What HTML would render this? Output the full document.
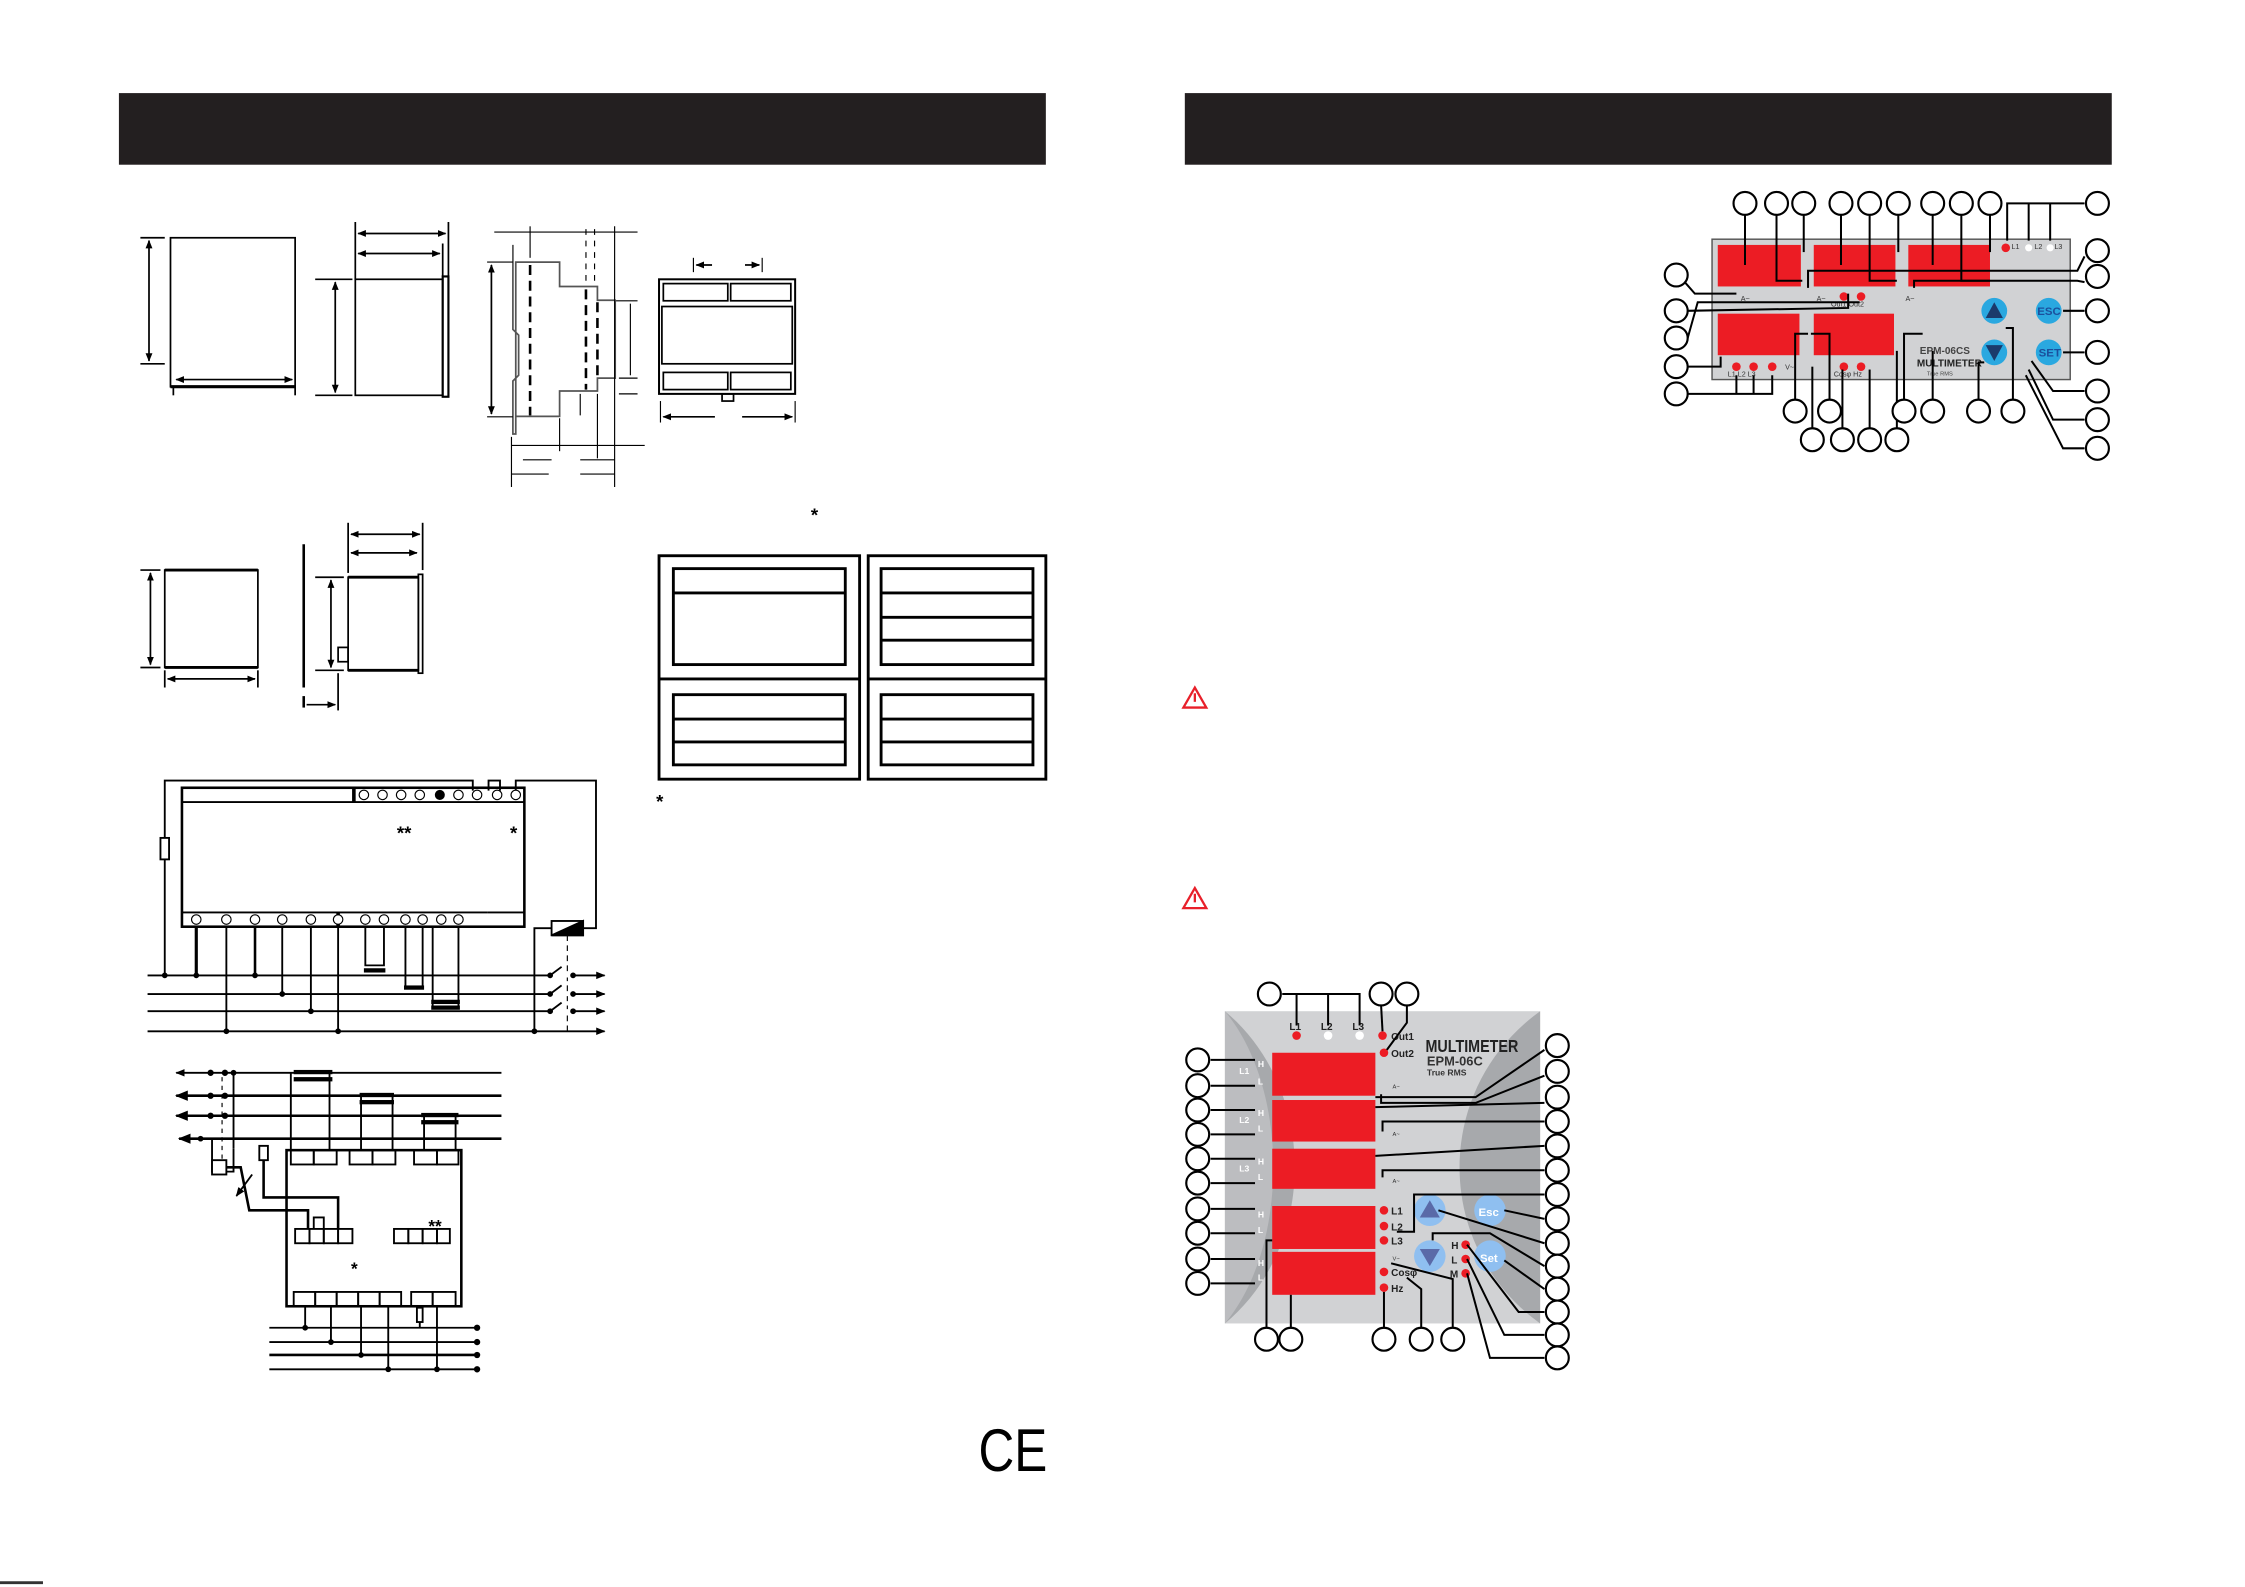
<!DOCTYPE html>
<html><head><meta charset="utf-8"><style>
html,body{margin:0;padding:0;background:#fff;}
svg{display:block;}
text{font-family:"Liberation Sans",sans-serif;}
</style></head><body>
<svg width="2245" height="1587" viewBox="0 0 1567 1108" preserveAspectRatio="none" xmlns="http://www.w3.org/2000/svg">
<defs>
<marker id="a" viewBox="0 0 10 10" refX="9" refY="5" markerWidth="5" markerHeight="5" orient="auto-start-reverse"><path d="M0,1 L10,5 L0,9 z" fill="#000"/></marker>
</defs>
<rect width="1567" height="1108" fill="#fff"/>
<rect x="83" y="65" width="647" height="50" fill="#231f20"/>
<rect x="827" y="65" width="647" height="50" fill="#231f20"/>
<line x1="0" y1="1105" x2="30" y2="1105" stroke="#333" stroke-width="2"/>

<g fill="none" stroke="#000" stroke-width="1.2">
<rect x="119" y="166" width="87" height="104"/>
<line x1="119" y1="270" x2="206" y2="270" stroke-width="2.2"/>
<line x1="98" y1="166" x2="115" y2="166"/><line x1="98" y1="254" x2="115" y2="254"/>
<line x1="104" y1="168" x2="104" y2="252" marker-start="url(#a)" marker-end="url(#a)"/>
<line x1="206" y1="270" x2="206" y2="276"/><line x1="121" y1="270" x2="121" y2="276"/>
<line x1="123" y1="265" x2="204" y2="265" marker-start="url(#a)" marker-end="url(#a)"/>
<rect x="248" y="195" width="61" height="81"/>
<rect x="309" y="193" width="4" height="84" stroke-width="1.5"/>
<line x1="248" y1="155" x2="248" y2="195"/><line x1="313" y1="155" x2="313" y2="193"/><line x1="309" y1="170" x2="309" y2="193"/>
<line x1="250" y1="163" x2="311" y2="163" marker-start="url(#a)" marker-end="url(#a)"/>
<line x1="250" y1="177" x2="307" y2="177" marker-start="url(#a)" marker-end="url(#a)"/>
<line x1="220" y1="195" x2="246" y2="195"/><line x1="220" y1="276" x2="246" y2="276"/>
<line x1="234" y1="197" x2="234" y2="274" marker-start="url(#a)" marker-end="url(#a)"/>
<polyline points="358,171 358,230 362,234 362,262 358,266 358,303 360,303 360,183 390.6,183 390.6,200 417,200 417,209.6 429.4,209.6 429.4,264 417,264 417,273 390.6,273 390.6,290.7 360,290.7" stroke="#555"/>
<line x1="370" y1="185" x2="370" y2="290" stroke-dasharray="7,4" stroke-width="1.8"/>
<line x1="409" y1="202" x2="409" y2="272" stroke-dasharray="7,4" stroke-width="1.8"/>
<line x1="417" y1="211" x2="417" y2="263" stroke-dasharray="7,4" stroke-width="1.8"/>
<line x1="409" y1="160" x2="409" y2="196" stroke-dasharray="4,4" stroke-width="0.8"/>
<line x1="415" y1="160" x2="415" y2="196" stroke-dasharray="4,4" stroke-width="0.8"/>
<line x1="345" y1="162" x2="445" y2="162" stroke-width="0.8"/>
<line x1="370" y1="158" x2="370" y2="180" stroke-width="0.8"/><line x1="429" y1="158" x2="429" y2="340" stroke-width="0.8"/>
<line x1="343" y1="185" x2="343" y2="289" marker-start="url(#a)" marker-end="url(#a)"/>
<line x1="340" y1="183" x2="358" y2="183" stroke-width="0.8"/><line x1="340" y1="291" x2="358" y2="291" stroke-width="0.8"/>
<line x1="430" y1="210" x2="445" y2="210" stroke-width="0.8"/><line x1="440" y1="212" x2="440" y2="262" stroke-width="0.8"/>
<line x1="432" y1="264" x2="445" y2="264" stroke-width="0.8"/><line x1="432" y1="275" x2="445" y2="275" stroke-width="0.8"/>
<line x1="405" y1="275" x2="405" y2="290" stroke-width="0.8"/>
<line x1="357" y1="305" x2="357" y2="340" stroke-width="0.8"/><line x1="390.6" y1="292" x2="390.6" y2="315" stroke-width="0.8"/><line x1="417" y1="275" x2="417" y2="320" stroke-width="0.8"/>
<line x1="357" y1="311" x2="450" y2="311" stroke-width="0.8"/>
<line x1="365" y1="321" x2="385" y2="321" stroke-width="0.8"/><line x1="405" y1="321" x2="429" y2="321" stroke-width="0.8"/>
<line x1="357" y1="331" x2="383" y2="331" stroke-width="0.8"/><line x1="405" y1="331" x2="429" y2="331" stroke-width="0.8"/>
<rect x="460" y="195" width="95" height="80" stroke-width="1.4"/>
<rect x="463" y="198" width="45" height="12"/><rect x="510" y="198" width="42" height="12"/>
<rect x="462" y="214" width="91" height="40"/>
<rect x="463" y="260" width="45" height="12"/><rect x="510" y="260" width="42" height="12"/>
<rect x="504" y="275" width="8" height="5"/>
<line x1="484" y1="180" x2="484" y2="190" stroke-width="0.8"/><line x1="532" y1="180" x2="532" y2="190" stroke-width="0.8"/>
<line x1="486" y1="185" x2="497" y2="185" marker-start="url(#a)"/><line x1="520" y1="185" x2="530" y2="185" marker-end="url(#a)"/>
<line x1="461" y1="280" x2="461" y2="295" stroke-width="0.8"/><line x1="555" y1="280" x2="555" y2="295" stroke-width="0.8"/>
<line x1="463" y1="291" x2="499" y2="291" marker-start="url(#a)"/><line x1="518" y1="291" x2="553" y2="291" marker-end="url(#a)"/>
<rect x="115" y="398" width="65" height="68"/>
<line x1="115" y1="398" x2="180" y2="398" stroke-width="2"/><line x1="115" y1="466" x2="180" y2="466" stroke-width="2"/>
<line x1="98" y1="398" x2="112" y2="398"/><line x1="98" y1="466" x2="112" y2="466"/>
<line x1="105" y1="400" x2="105" y2="464" marker-start="url(#a)" marker-end="url(#a)"/>
<line x1="115" y1="468" x2="115" y2="480"/><line x1="180" y1="468" x2="180" y2="480"/>
<line x1="117" y1="474" x2="178" y2="474" marker-start="url(#a)" marker-end="url(#a)"/>
<line x1="212" y1="380" x2="212" y2="480" stroke-width="1.8"/><line x1="212" y1="486" x2="212" y2="494" stroke-width="1.8"/>
<rect x="243" y="403" width="49" height="65"/>
<line x1="243" y1="403" x2="292" y2="403" stroke-width="2"/><line x1="243" y1="468" x2="292" y2="468" stroke-width="2"/>
<rect x="292" y="401" width="3" height="69"/>
<rect x="236" y="452" width="7" height="10"/>
<line x1="243" y1="365" x2="243" y2="400"/><line x1="295" y1="365" x2="295" y2="398"/>
<line x1="245" y1="373" x2="293" y2="373" marker-start="url(#a)" marker-end="url(#a)"/>
<line x1="245" y1="386" x2="291" y2="386" marker-start="url(#a)" marker-end="url(#a)"/>
<line x1="220" y1="403" x2="240" y2="403"/><line x1="220" y1="468" x2="240" y2="468"/>
<line x1="231" y1="405" x2="231" y2="466" marker-start="url(#a)" marker-end="url(#a)"/>
<line x1="236" y1="470" x2="236" y2="496"/>
<line x1="214" y1="492" x2="234" y2="492" marker-end="url(#a)"/>
<g stroke-width="2">
<rect x="460" y="388" width="140" height="156"/><line x1="460" y1="474" x2="600" y2="474"/>
<rect x="470" y="397" width="120" height="67"/><line x1="470" y1="414" x2="590" y2="414"/>
<rect x="470" y="485" width="120" height="49"/><line x1="470" y1="502" x2="590" y2="502"/><line x1="470" y1="518" x2="590" y2="518"/>
<rect x="606" y="388" width="124" height="156"/><line x1="606" y1="474" x2="730" y2="474"/>
<rect x="615" y="397" width="106" height="67"/><line x1="615" y1="414" x2="721" y2="414"/><line x1="615" y1="431" x2="721" y2="431"/><line x1="615" y1="447" x2="721" y2="447"/>
<rect x="615" y="485" width="106" height="49"/><line x1="615" y1="502" x2="721" y2="502"/><line x1="615" y1="518" x2="721" y2="518"/>
</g>
</g>
<text x="566" y="364" font-size="13" font-weight="bold">*</text>
<text x="458" y="564" font-size="13" font-weight="bold">*</text>

<g fill="none" stroke="#000" stroke-width="1.3">
<rect x="127" y="550" width="239" height="97" stroke-width="1.8"/>
<line x1="127" y1="560" x2="366" y2="560"/><line x1="127" y1="637" x2="340" y2="637"/><line x1="340" y1="637" x2="366" y2="637"/>
<line x1="247" y1="550" x2="247" y2="560" stroke-width="2.5"/>
<line x1="236" y1="637" x2="236" y2="647" stroke-width="2.5"/>
<line x1="103" y1="681" x2="422" y2="681" marker-end="url(#a)"/>
<line x1="103" y1="694" x2="422" y2="694" marker-end="url(#a)"/>
<line x1="103" y1="706" x2="422" y2="706" marker-end="url(#a)"/>
<line x1="103" y1="720" x2="422" y2="720" marker-end="url(#a)"/>
<polyline points="115,681 115,545 330,545 330,552"/>
<rect x="112" y="585" width="6" height="15" fill="#fff"/>
<polyline points="341,552 341,545 349,545 349,552"/>
<polyline points="360,552 360,545 416,545 416,648 407,648"/>
<rect x="385" y="643" width="22" height="10" fill="#fff"/>
<path d="M385,653 L407,643 L407,653 z" fill="#000"/>
<polyline points="385,648 373,648 373,720"/>
<line x1="396" y1="653" x2="396" y2="720" stroke-dasharray="4,3" stroke-width="0.8"/>
<line x1="137" y1="647" x2="137" y2="681" stroke-width="2.2"/>
<line x1="158" y1="647" x2="158" y2="720"/>
<line x1="178" y1="647" x2="178" y2="681" stroke-width="1.8"/>
<line x1="197" y1="647" x2="197" y2="694"/>
<line x1="217" y1="647" x2="217" y2="706"/>
<line x1="236" y1="647" x2="236" y2="720"/>
<polyline points="255,647 255,674 268,674 268,647"/>
<polyline points="283,647 283,690 295,690 295,647"/>
<polyline points="302,647 302,703 320,703 320,647"/>
</g>
<g stroke="#fff" stroke-width="3">
<line x1="384" y1="681" x2="400" y2="681"/><line x1="384" y1="694" x2="400" y2="694"/><line x1="384" y1="706" x2="400" y2="706"/>
</g>
<g stroke="#000" stroke-width="1.3">
<line x1="384" y1="681" x2="392" y2="675"/><line x1="384" y1="694" x2="392" y2="688"/><line x1="384" y1="706" x2="392" y2="700"/>
</g>
<g fill="#000">
<rect x="254" y="676" width="15" height="3"/><rect x="282" y="688" width="14" height="3"/><rect x="301" y="698" width="20" height="3"/><rect x="301" y="702" width="20" height="3"/>
<circle cx="115" cy="681" r="2"/><circle cx="137" cy="681" r="2"/><circle cx="178" cy="681" r="2"/><circle cx="197" cy="694" r="2"/><circle cx="217" cy="706" r="2"/><circle cx="158" cy="720" r="2"/><circle cx="236" cy="720" r="2"/><circle cx="373" cy="720" r="2"/>
<circle cx="384" cy="681" r="2"/><circle cx="400" cy="681" r="2"/><circle cx="384" cy="694" r="2"/><circle cx="400" cy="694" r="2"/><circle cx="384" cy="706" r="2"/><circle cx="400" cy="706" r="2"/>
<circle cx="307" cy="555" r="3.5"/>
</g>
<g fill="#fff" stroke="#000" stroke-width="0.8">
<circle cx="254" cy="555" r="3.3"/><circle cx="267" cy="555" r="3.3"/><circle cx="280" cy="555" r="3.3"/><circle cx="293" cy="555" r="3.3"/><circle cx="320" cy="555" r="3.3"/><circle cx="333" cy="555" r="3.3"/><circle cx="347" cy="555" r="3.3"/><circle cx="360" cy="555" r="3.3"/>
<circle cx="137" cy="642" r="3.3"/><circle cx="158" cy="642" r="3.3"/><circle cx="178" cy="642" r="3.3"/><circle cx="197" cy="642" r="3.3"/><circle cx="217" cy="642" r="3.3"/><circle cx="236" cy="642" r="3.3"/><circle cx="255" cy="642" r="3.3"/><circle cx="268" cy="642" r="3.3"/><circle cx="283" cy="642" r="3.3"/><circle cx="295" cy="642" r="3.3"/><circle cx="308" cy="642" r="3.3"/><circle cx="320" cy="642" r="3.3"/>
</g>
<text x="277" y="586" font-size="13" font-weight="bold">**</text>
<text x="356" y="586" font-size="13" font-weight="bold">*</text>

<g fill="none" stroke="#000" stroke-width="1.3">
<line x1="350" y1="749" x2="123" y2="749" marker-end="url(#a)"/>
<line x1="350" y1="765" x2="123" y2="765" marker-end="url(#a)" stroke-width="1.8"/>
<line x1="350" y1="779" x2="123" y2="779" marker-end="url(#a)" stroke-width="1.8"/>
<line x1="350" y1="795" x2="125" y2="795" marker-end="url(#a)" stroke-width="1.8"/>
<rect x="200" y="803" width="122" height="109" stroke-width="1.8"/>
<rect x="203" y="803" width="16" height="10"/><rect x="219" y="803" width="16" height="10"/>
<rect x="244" y="803" width="16" height="10"/><rect x="260" y="803" width="16" height="10"/>
<rect x="289" y="803" width="16" height="10"/><rect x="305" y="803" width="15" height="10"/>
<rect x="206" y="858" width="10" height="10"/><rect x="216" y="858" width="10" height="10"/><rect x="226" y="858" width="10" height="10"/><rect x="236" y="858" width="10" height="10"/>
<rect x="275" y="858" width="10" height="10"/><rect x="285" y="858" width="10" height="10"/><rect x="295" y="858" width="10" height="10"/><rect x="305" y="858" width="9" height="10"/>
<rect x="205" y="902" width="15" height="10"/><rect x="220" y="902" width="15" height="10"/><rect x="235" y="902" width="15" height="10"/><rect x="250" y="902" width="15" height="10"/><rect x="265" y="902" width="15" height="10"/><rect x="287" y="902" width="15" height="10"/><rect x="302" y="902" width="16" height="10"/>
<line x1="203" y1="749" x2="203" y2="803"/><line x1="230" y1="749" x2="230" y2="803"/>
<line x1="252" y1="765" x2="252" y2="803"/><line x1="274" y1="765" x2="274" y2="803"/>
<line x1="296" y1="779" x2="296" y2="803"/><line x1="318" y1="779" x2="318" y2="803"/>
<line x1="163" y1="749" x2="163" y2="802"/><polyline points="163,802 163,818 148,818 148,795"/>
<rect x="148" y="810" width="10" height="10" fill="#fff"/>
<line x1="155" y1="752" x2="155" y2="810" stroke-dasharray="3,3" stroke-width="0.8"/>
<polyline points="158,815 168,815 174,845 215,845 215,858" stroke-width="1.8"/>
<line x1="176" y1="820" x2="165" y2="835" marker-end="url(#a)"/>
<polyline points="184,800 184,836 236,836 236,858" stroke-width="1.8"/>
<rect x="181" y="800" width="6" height="10" fill="#fff"/>
<polyline points="219,858 219,850 226,850 226,858"/>
<line x1="188" y1="927" x2="333" y2="927"/><line x1="188" y1="937" x2="333" y2="937"/><line x1="188" y1="946" x2="333" y2="946" stroke-width="1.8"/><line x1="188" y1="956" x2="333" y2="956"/>
<line x1="213" y1="912" x2="213" y2="927"/><line x1="231" y1="912" x2="231" y2="937"/><line x1="252" y1="912" x2="252" y2="946"/><line x1="271" y1="912" x2="271" y2="956"/><line x1="293" y1="912" x2="293" y2="927"/><line x1="305" y1="912" x2="305" y2="956"/>
<rect x="291" y="913" width="4" height="10" fill="#fff"/>
</g>
<g fill="#000">
<rect x="205" y="747" width="27" height="3"/><rect x="205" y="752" width="27" height="3"/>
<rect x="251" y="763" width="24" height="3"/><rect x="251" y="768" width="24" height="3"/>
<rect x="294" y="777" width="26" height="3"/><rect x="294" y="782" width="26" height="3"/>
<circle cx="147" cy="749" r="2.2"/><circle cx="157" cy="749" r="2.2"/><circle cx="147" cy="765" r="2.2"/><circle cx="157" cy="765" r="2.2"/><circle cx="147" cy="779" r="2.2"/><circle cx="157" cy="779" r="2.2"/><circle cx="163" cy="749" r="2"/><circle cx="140" cy="795" r="2"/>
<circle cx="333" cy="927" r="2.2"/><circle cx="333" cy="937" r="2.2"/><circle cx="333" cy="946" r="2.2"/><circle cx="333" cy="956" r="2.2"/>
<circle cx="213" cy="927" r="2"/><circle cx="231" cy="937" r="2"/><circle cx="252" cy="946" r="2"/><circle cx="271" cy="956" r="2"/><circle cx="305" cy="956" r="2"/>
</g>
<text x="299" y="860" font-size="12" font-weight="bold">**</text>
<text x="245" y="890" font-size="12" font-weight="bold">*</text>

<text x="683" y="1027" font-size="42" font-family="Liberation Sans" textLength="48" lengthAdjust="spacingAndGlyphs">CE</text>

<g fill="none" stroke="#e8202a" stroke-width="1.6">
<path d="M834,480 L842,494 L826,494 z"/><line x1="834" y1="484" x2="834" y2="490"/>
<path d="M834,620 L842,634 L826,634 z"/><line x1="834" y1="624" x2="834" y2="630"/>
</g>

<rect x="1195" y="167" width="250" height="98" fill="#d1d2d4" stroke="#555" stroke-width="1"/>
<g fill="#ec1c24">
<rect x="1199" y="171" width="58" height="29"/><rect x="1266" y="171" width="57" height="29"/><rect x="1332" y="171" width="57" height="29"/>
<rect x="1199" y="219" width="57" height="29"/><rect x="1266" y="219" width="56" height="29"/>
<circle cx="1287" cy="207" r="3"/><circle cx="1299" cy="207" r="3"/><circle cx="1212" cy="256" r="3"/><circle cx="1224" cy="256" r="3"/><circle cx="1237" cy="256" r="3"/><circle cx="1287" cy="256" r="3"/><circle cx="1299" cy="256" r="3"/><circle cx="1400" cy="173" r="3"/>
</g>
<g fill="#fff"><circle cx="1416" cy="173" r="2.5"/><circle cx="1431" cy="173" r="2.5"/></g>
<g fill="#2aa8e0"><circle cx="1392" cy="217" r="9"/><circle cx="1392" cy="246" r="9"/><circle cx="1430" cy="217" r="9"/><circle cx="1430" cy="246" r="9"/></g>
<path d="M1386,222 L1398,222 L1392,211 z" fill="#1b3a6b"/><path d="M1386,241 L1398,241 L1392,252 z" fill="#1b3a6b"/>
<text x="1422" y="220" font-size="8" font-weight="bold" fill="#1b4f9c">ESC</text>
<text x="1423" y="249" font-size="8" font-weight="bold" fill="#1b4f9c">SET</text>
<text x="1340" y="247" font-size="7" fill="#444" font-weight="bold">EPM-06CS</text>
<text x="1338" y="256" font-size="7" fill="#222" font-weight="bold">MULTIMETER</text>
<text x="1345" y="262" font-size="4" fill="#444">True RMS</text>
<g font-size="5" fill="#333"><text x="1215" y="210">A~</text><text x="1268" y="210">A~</text><text x="1330" y="210">A~</text><text x="1278" y="214">Out1 Out2</text><text x="1246" y="258">V~</text><text x="1206" y="263">L1  L2  L3</text><text x="1280" y="263">Cosφ Hz</text><text x="1404" y="174">L1</text><text x="1420" y="174">L2</text><text x="1434" y="174">L3</text></g>
<g fill="none" stroke="#000" stroke-width="1.4">
<polyline points="1218,150 1218,185"/><polyline points="1240,150 1240,196 1258,196"/><polyline points="1259,150 1259,176"/>
<polyline points="1285,150 1285,185"/><polyline points="1305,150 1305,196 1324,196"/><polyline points="1325,150 1325,176"/>
<polyline points="1349,150 1349,185"/><polyline points="1369,150 1369,196 1389,196"/><polyline points="1389,150 1389,176"/>
<polyline points="1455,142 1401,142 1401,168"/><line x1="1416" y1="142" x2="1416" y2="168"/><line x1="1431" y1="142" x2="1431" y2="168"/>
<polyline points="1176,197 1183,205 1212,205"/><polyline points="1178,217 1290,215 1290,205"/><polyline points="1178,236 1185,211 1298,211"/>
<polyline points="1178,256 1201,256 1201,249"/><polyline points="1178,275 1237,275 1237,262"/><line x1="1212" y1="262" x2="1212" y2="275"/><line x1="1224" y1="262" x2="1224" y2="275"/>
<polyline points="1455,179 1450,189 1262,189 1262,201"/><polyline points="1455,197 1450,196 1336,196 1336,201"/>
<line x1="1440" y1="217" x2="1455" y2="217"/><line x1="1440" y1="246" x2="1455" y2="246"/>
<polyline points="1455,273 1433,273 1418,252"/><polyline points="1455,293 1433,293 1416,258"/><polyline points="1455,313 1440,313 1414,262"/>
<polyline points="1253,279 1253,233 1262,233"/><polyline points="1277,279 1277,233 1264,233"/><polyline points="1265,299 1265,256"/><polyline points="1286,299 1286,258"/><polyline points="1305,299 1305,258"/><polyline points="1324,299 1324,245"/>
<polyline points="1329,279 1329,233 1342,233"/><polyline points="1349,279 1349,245"/><polyline points="1381,279 1381,253 1385,253"/><polyline points="1405,279 1405,229 1400,229"/>
</g>
<g fill="#fff" stroke="#000" stroke-width="1.5">
<circle cx="1218" cy="142" r="8"/><circle cx="1240" cy="142" r="8"/><circle cx="1259" cy="142" r="8"/><circle cx="1285" cy="142" r="8"/><circle cx="1305" cy="142" r="8"/><circle cx="1325" cy="142" r="8"/><circle cx="1349" cy="142" r="8"/><circle cx="1369" cy="142" r="8"/><circle cx="1389" cy="142" r="8"/><circle cx="1464" cy="142" r="8"/>
<circle cx="1464" cy="175" r="8"/><circle cx="1464" cy="193" r="8"/><circle cx="1464" cy="217" r="8"/><circle cx="1464" cy="246" r="8"/><circle cx="1464" cy="273" r="8"/><circle cx="1464" cy="293" r="8"/><circle cx="1464" cy="313" r="8"/>
<circle cx="1170" cy="192" r="8"/><circle cx="1170" cy="217" r="8"/><circle cx="1170" cy="236" r="8"/><circle cx="1170" cy="256" r="8"/><circle cx="1170" cy="275" r="8"/>
<circle cx="1253" cy="287" r="8"/><circle cx="1277" cy="287" r="8"/><circle cx="1329" cy="287" r="8"/><circle cx="1349" cy="287" r="8"/><circle cx="1381" cy="287" r="8"/><circle cx="1405" cy="287" r="8"/>
<circle cx="1265" cy="307" r="8"/><circle cx="1286" cy="307" r="8"/><circle cx="1305" cy="307" r="8"/><circle cx="1324" cy="307" r="8"/>
</g>

<rect x="855" y="706" width="220" height="218" fill="#d1d2d4"/>
<path d="M855,706 C920,760 920,870 855,924 z" fill="#a7a9ac"/>
<path d="M1075,706 C1000,760 1000,870 1075,924 z" fill="#a7a9ac"/>
<path d="M855,706 C900,760 900,870 855,924" fill="#bcbdc0"/>
<g fill="#ec1c24">
<rect x="888" y="735" width="72" height="30"/><rect x="888" y="768" width="72" height="29"/><rect x="888" y="802" width="72" height="28"/><rect x="888" y="842" width="72" height="30"/><rect x="888" y="874" width="72" height="30"/>
<circle cx="905" cy="723" r="3"/><circle cx="965" cy="723" r="3"/><circle cx="966" cy="735" r="3"/>
<circle cx="966" cy="845" r="3"/><circle cx="966" cy="856" r="3"/><circle cx="966" cy="866" r="3"/><circle cx="966" cy="888" r="3"/><circle cx="966" cy="899" r="3"/>
<circle cx="1023" cy="869" r="3"/><circle cx="1023" cy="879" r="3"/><circle cx="1023" cy="889" r="3"/>
</g>
<g fill="#fff"><circle cx="927" cy="723" r="3"/><circle cx="949" cy="723" r="3"/></g>
<g fill="#8fbff0"><circle cx="998" cy="845" r="11"/><circle cx="998" cy="877" r="11"/><circle cx="1040" cy="845" r="11"/><circle cx="1040" cy="877" r="11"/></g>
<path d="M991,850 L1005,850 L998,838 z" fill="#5a6aa8"/><path d="M991,872 L1005,872 L998,884 z" fill="#5a6aa8"/>
<text x="1032" y="849" font-size="8" font-weight="bold" fill="#fff">Esc</text>
<text x="1033" y="881" font-size="8" font-weight="bold" fill="#fff">Set</text>
<text x="995" y="734" font-size="10" font-weight="bold" fill="#222" transform="scale(1,1.2) translate(0,-122)">MULTIMETER</text>
<text x="996" y="744" font-size="9" font-weight="bold" fill="#333">EPM-06C</text>
<text x="996" y="751" font-size="6" fill="#333" font-weight="bold">True RMS</text>
<g font-size="7" font-weight="bold" fill="#222">
<text x="900" y="719">L1</text><text x="922" y="719">L2</text><text x="944" y="719">L3</text>
<text x="971" y="726">Out1</text><text x="971" y="738">Out2</text>
<text x="971" y="848">L1</text><text x="971" y="859">L2</text><text x="971" y="869">L3</text>
<text x="971" y="891">Cosφ</text><text x="971" y="902">Hz</text>
<text x="1013" y="872">H</text><text x="1013" y="882">L</text><text x="1012" y="892">M</text>
</g>
<g font-size="4" fill="#333"><text x="972" y="760">A~</text><text x="972" y="793">A~</text><text x="972" y="826">A~</text><text x="972" y="880">V~</text></g>
<g font-size="6" font-weight="bold" fill="#fff">
<text x="865" y="750">L1</text><text x="865" y="784">L2</text><text x="865" y="818">L3</text>
<text x="878" y="745">H</text><text x="878" y="757">L</text><text x="878" y="779">H</text><text x="878" y="790">L</text><text x="878" y="813">H</text><text x="878" y="824">L</text>
<text x="878" y="850">H</text><text x="878" y="861">L</text><text x="878" y="884">H</text><text x="878" y="894">L</text>
</g>
<g fill="none" stroke="#000" stroke-width="1.4">
<polyline points="895,694 949,694 949,716"/><line x1="905" y1="694" x2="905" y2="716"/><line x1="927" y1="694" x2="927" y2="716"/>
<line x1="964" y1="702" x2="965" y2="720"/><polyline points="982,702 982,714 968,733"/>
<line x1="845" y1="740" x2="876" y2="740"/><line x1="845" y1="758" x2="876" y2="758"/><line x1="845" y1="775" x2="876" y2="775"/><line x1="845" y1="792" x2="876" y2="792"/><line x1="845" y1="809" x2="876" y2="809"/><line x1="845" y1="826" x2="876" y2="826"/><line x1="845" y1="844" x2="876" y2="844"/><line x1="845" y1="861" x2="876" y2="861"/><line x1="845" y1="879" x2="876" y2="879"/><line x1="845" y1="896" x2="876" y2="896"/>
<polyline points="1078,733 1030,766 960,766"/><polyline points="1078,751 1030,770 964,770 964,764"/>
<polyline points="1078,770 960,773"/><polyline points="1078,783 965,783 965,790"/><polyline points="1078,800 960,807"/><polyline points="1078,817 965,817 965,822"/>
<polyline points="1078,834 987,834 987,860 975,860"/><polyline points="1078,851 1050,845"/><polyline points="1078,868 1004,845"/><polyline points="1078,884 1040,861 1000,861 1000,866"/>
<polyline points="1078,900 1050,880"/><polyline points="1078,916 1060,916 1024,869"/><polyline points="1078,932 1050,932 1024,879"/><polyline points="1078,948 1040,948 1024,889"/>
<polyline points="884,927 884,866 888,866"/><line x1="901" y1="927" x2="901" y2="904"/><line x1="966" y1="927" x2="966" y2="902"/>
<polyline points="992,927 992,900 982,892"/><polyline points="1014,927 1014,893 971,882"/>
</g>
<g fill="#fff" stroke="#000" stroke-width="1.5">
<circle cx="886" cy="694" r="8"/><circle cx="964" cy="694" r="8"/><circle cx="982" cy="694" r="8"/>
<circle cx="836" cy="740" r="8"/><circle cx="836" cy="758" r="8"/><circle cx="836" cy="775" r="8"/><circle cx="836" cy="792" r="8"/><circle cx="836" cy="809" r="8"/><circle cx="836" cy="826" r="8"/><circle cx="836" cy="844" r="8"/><circle cx="836" cy="861" r="8"/><circle cx="836" cy="879" r="8"/><circle cx="836" cy="896" r="8"/>
<circle cx="1087" cy="730" r="8"/><circle cx="1087" cy="748" r="8"/><circle cx="1087" cy="766" r="8"/><circle cx="1087" cy="783" r="8"/><circle cx="1087" cy="800" r="8"/><circle cx="1087" cy="817" r="8"/><circle cx="1087" cy="834" r="8"/><circle cx="1087" cy="851" r="8"/><circle cx="1087" cy="868" r="8"/><circle cx="1087" cy="884" r="8"/><circle cx="1087" cy="900" r="8"/><circle cx="1087" cy="916" r="8"/><circle cx="1087" cy="932" r="8"/><circle cx="1087" cy="948" r="8"/>
<circle cx="884" cy="935" r="8"/><circle cx="901" cy="935" r="8"/><circle cx="966" cy="935" r="8"/><circle cx="992" cy="935" r="8"/><circle cx="1014" cy="935" r="8"/>
</g>
</svg>
</body></html>
